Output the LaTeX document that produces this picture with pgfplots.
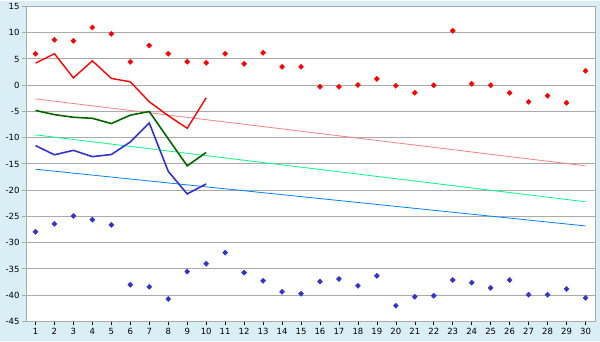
\documentclass[border=0pt]{standalone}
\usepackage{pgfplots}
\pgfplotsset{compat=1.18}
\usepackage{fontspec}
\setmainfont{DejaVu Sans}
\definecolor{bgc}{HTML}{DAEEF5}
\definecolor{gridc}{HTML}{AAAAAA}
\definecolor{rd}{HTML}{FF0000}
\definecolor{bl}{HTML}{3333CC}
\definecolor{dg}{HTML}{006600}
\definecolor{tr}{HTML}{FF8080}
\definecolor{tg}{HTML}{00FF80}
\definecolor{tb}{HTML}{0080FF}
\begin{document}
\begin{tikzpicture}[x=1pt,y=1pt]
\fill[bgc] (0,0) rectangle (600,340);
\begin{axis}[
  at={(26pt,20pt)}, anchor=south west,
  scale only axis, width=569pt, height=315pt,
  xmin=0.5, xmax=30.5, ymin=-45, ymax=15,
  xtick={1,...,30}, ytick={-45,-40,...,15},
  ymajorgrids, grid style={gridc, line width=1pt},
  axis line style={gridc, line width=1pt},
  axis background/.style={fill=white},
  tick align=outside, major tick length=4pt,
  tick style={black, line width=0.6pt},
  ytick style={gridc, line width=1pt},
  xtick pos=bottom, ytick pos=left,
  tick label style={font=\fontsize{8.5}{10}\selectfont},
  /pgf/number format/assume math mode=true,
  xticklabel style={yshift=1pt},
  yticklabel style={xshift=1pt},
  clip=false,
]
% trend lines
\addplot[tr, line width=0.8pt] coordinates {(1,-2.6) (30,-15.35)};
\addplot[tg, line width=0.8pt] coordinates {(1,-9.45) (30,-22.2)};
\addplot[tb, line width=0.8pt] coordinates {(1,-16.0) (30,-26.8)};
% lines
\addplot[rd, line width=1.4pt] coordinates {(1,4.2) (2,6.0) (3,1.4) (4,4.65) (5,1.3) (6,0.65) (7,-3.15) (8,-5.8) (9,-8.2) (10,-2.4)};
\addplot[dg, line width=1.6pt] coordinates {(1,-4.8) (2,-5.6) (3,-6.1) (4,-6.3) (5,-7.3) (6,-5.7) (7,-5.0) (8,-10.2) (9,-15.35) (10,-12.8)};
\addplot[bl, line width=1.6pt] coordinates {(1,-11.5) (2,-13.25) (3,-12.4) (4,-13.6) (5,-13.2) (6,-10.8) (7,-7.2) (8,-16.4) (9,-20.7) (10,-18.8)};
% markers
\addplot[only marks, mark=diamond*, mark size=2.6pt, rd, mark options={fill=rd, xscale=1.3}] coordinates {
(1,6.0) (2,8.65) (3,8.46) (4,11.0) (5,9.8) (6,4.46) (7,7.57) (8,6.0) (9,4.46) (10,4.27)
(11,6.0) (12,4.08) (13,6.18) (14,3.5) (15,3.5) (16,-0.3) (17,-0.3) (18,0.05) (19,1.2) (20,-0.1)
(21,-1.44) (22,0) (23,10.37) (24,0.27) (25,0) (26,-1.44) (27,-3.15) (28,-2.0) (29,-3.34) (30,2.74)};
\addplot[only marks, mark=diamond*, mark size=2.6pt, bl, mark options={fill=bl, xscale=1.3}] coordinates {
(1,-27.9) (2,-26.4) (3,-24.9) (4,-25.6) (5,-26.6) (6,-38.0) (7,-38.4) (8,-40.7) (9,-35.5) (10,-34.0)
(11,-31.9) (12,-35.7) (13,-37.25) (14,-39.35) (15,-39.7) (16,-37.4) (17,-36.9) (18,-38.2) (19,-36.3) (20,-42.0)
(21,-40.3) (22,-40.1) (23,-37.1) (24,-37.6) (25,-38.6) (26,-37.1) (27,-39.9) (28,-39.9) (29,-38.8) (30,-40.5)};
\end{axis}
\end{tikzpicture}
\end{document}
